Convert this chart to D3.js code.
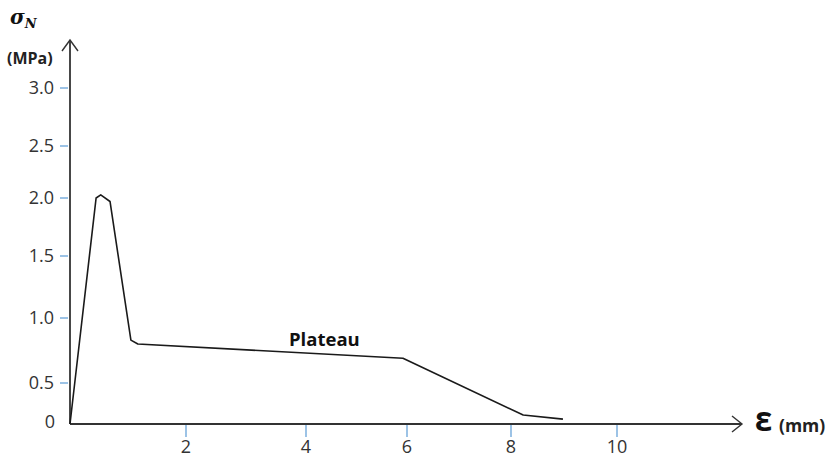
<!DOCTYPE html>
<html>
<head>
<meta charset="utf-8">
<script src="https://cdn.jsdelivr.net/npm/d3@7"></script>
<style>
    body { margin: 0; background: #fff; }
    svg { display: block; font-family: "Open Sans", "Noto Sans", sans-serif; }
</style>
</head>
<body>
<div class="chart"></div>
<script>
// strain (mm) / stress (MPa)
const strain = [0, 0.45, 0.53, 0.69, 1.05, 1.17, 5.92, 8.23, 8.98];
const stress = [0, 2.0, 2.03, 1.97, 0.83, 0.80, 0.69, 0.11, 0.06];

const xTicks = [2, 4, 6, 8, 10];
const yTicks = [0.5, 1.0, 1.5, 2.0, 2.5, 3.0];
const yTickLabels = ["0.5", "1.0", "1.5", "2.0", "2.5", "3.0"];

const width = 833, height = 459;

// hand-drawn axes: tick spacing is not even, so use piecewise scales
const x = d3.scaleLinear()
    .domain([0, 2, 4, 6, 8, 10])
    .range([70, 186, 306, 407, 511, 617]);
const y = d3.scaleLinear()
    .domain([0, 0.5, 1, 1.5, 2, 2.5, 3])
    .range([424, 383, 318, 256, 198, 146, 88]);

const svg = d3.select(".chart")
    .append("svg")
    .attr("width", width)
    .attr("height", height);

const axisColor = "#333";
const tickColor = "#5b9bd5";
const labelColor = "#333";
const x0 = x(0), y0 = y(0);

// x axis with arrow
svg.append("line")
    .attr("x1", x0).attr("y1", y0)
    .attr("x2", 742).attr("y2", y0)
    .attr("stroke", axisColor).attr("stroke-width", 1.8);
svg.append("path")
    .attr("d", `M732,${y0 - 8}L742,${y0}L732,${y0 + 8}`)
    .attr("fill", "none").attr("stroke", axisColor).attr("stroke-width", 1.4);

// y axis with arrow
svg.append("line")
    .attr("x1", x0).attr("y1", y0)
    .attr("x2", x0).attr("y2", 40)
    .attr("stroke", axisColor).attr("stroke-width", 1.8);
svg.append("path")
    .attr("d", `M${x0 - 8},51L${x0},40L${x0 + 8},51`)
    .attr("fill", "none").attr("stroke", axisColor).attr("stroke-width", 1.4);

// x ticks
const xg = svg.append("g");
xg.selectAll("line")
    .data(xTicks).enter()
    .append("line")
    .attr("x1", d => x(d)).attr("x2", d => x(d))
    .attr("y1", y0 + 1).attr("y2", y0 + 13)
    .attr("stroke", tickColor).attr("stroke-width", 1.2);
xg.selectAll("text")
    .data(xTicks).enter()
    .append("text")
    .attr("x", d => x(d))
    .attr("y", 453)
    .attr("text-anchor", "middle")
    .style("font-size", "18px")
    .attr("fill", labelColor)
    .text(d => d);

// y ticks
const yg = svg.append("g");
yg.selectAll("line")
    .data(yTicks).enter()
    .append("line")
    .attr("x1", x0 - 10).attr("x2", x0 - 2)
    .attr("y1", d => y(d)).attr("y2", d => y(d))
    .attr("stroke", tickColor).attr("stroke-width", 1.2);
yg.selectAll("text")
    .data(yTicks).enter()
    .append("text")
    .attr("x", 54)
    .attr("y", d => y(d))
    .attr("dy", "0.35em")
    .attr("text-anchor", "end")
    .style("font-size", "18px")
    .attr("fill", labelColor)
    .text((d, i) => yTickLabels[i]);
svg.append("text")
    .attr("x", 55).attr("y", 428)
    .attr("text-anchor", "end")
    .style("font-size", "18px")
    .attr("fill", labelColor)
    .text("0");

// curve
const line = d3.line()
    .x(d => x(d[0]))
    .y(d => y(d[1]));
svg.append("path")
    .datum(strain.map((s, i) => [s, stress[i]]))
    .attr("d", line)
    .attr("fill", "none")
    .attr("stroke", "#1a1a1a")
    .attr("stroke-width", 1.6)
    .attr("stroke-linejoin", "round");

// labels
const sig = svg.append("text")
    .attr("x", 10).attr("y", 24)
    .style("font-family", "'DejaVu Serif', serif")
    .style("font-weight", "bold")
    .style("font-style", "italic")
    .style("font-size", "20px")
    .attr("fill", "#111");
sig.append("tspan").text("σ");
sig.append("tspan")
    .attr("dy", 4)
    .style("font-size", "13px")
    .text("N");

svg.append("text")
    .attr("x", 7).attr("y", 64)
    .style("font-weight", "bold")
    .style("font-size", "16px")
    .attr("fill", "#222")
    .text("(MPa)");

svg.append("text")
    .attr("x", 289).attr("y", 346)
    .style("font-weight", "bold")
    .style("font-size", "18.5px")
    .attr("fill", "#111")
    .text("Plateau");

svg.append("text")
    .attr("x", 755).attr("y", 431)
    .style("font-weight", "800")
    .style("font-size", "27px")
    .attr("fill", "#111")
    .text("Ɛ");
svg.append("text")
    .attr("x", 779).attr("y", 432)
    .style("font-weight", "bold")
    .style("font-size", "17.5px")
    .attr("fill", "#222")
    .text("(mm)");
</script>
</body>
</html>
